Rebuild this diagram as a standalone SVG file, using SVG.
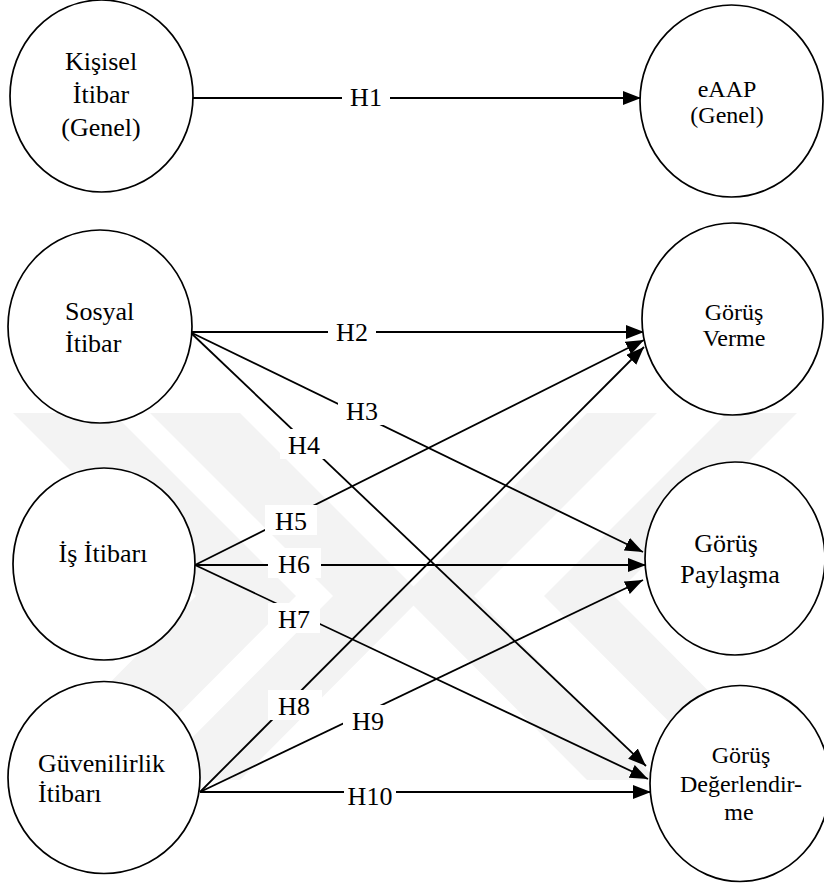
<svg xmlns="http://www.w3.org/2000/svg" width="824" height="886" viewBox="0 0 824 886">
<style>
.node ellipse{fill:#fff;stroke:#000;stroke-width:1.7}
text{font-family:"Liberation Serif","Times New Roman","DejaVu Serif",serif;font-size:26px;fill:#000}
.s24{font-size:24px}
.c{text-anchor:middle}
.edge line{stroke:#000;stroke-width:1.8;marker-end:url(#arr)}
.lbl rect{fill:#fff}
.wm{fill:#f3f3f3}
</style>
<defs>
<marker id="arr" markerUnits="userSpaceOnUse" markerWidth="19" markerHeight="15" refX="18" refY="7" orient="auto">
<path d="M0,0 L18,7 L0,14 z" fill="#000"/>
</marker>
</defs>
<rect width="824" height="886" fill="#fff"/>
<g id="watermark">
<polygon class="wm" points="13,413 113,413 296,596 113,780 13,780 196,596"/>
<polygon class="wm" points="150,413 240,413 423,596 240,780 150,780 333,596"/>
<polygon class="wm" points="587,413 657,413 474,596 657,780 587,780 404,596"/>
<polygon class="wm" points="727,413 797,413 614,596 797,780 727,780 544,596"/>
</g>
<g id="connectors">
<g class="edge">
<line x1="193" y1="98" x2="641" y2="98"/>
<line x1="190" y1="332" x2="644" y2="332"/>
<line x1="190" y1="332" x2="643" y2="552"/>
<line x1="190" y1="332" x2="646" y2="766"/>
<line x1="195" y1="565" x2="644" y2="340"/>
<line x1="195" y1="565" x2="646" y2="565"/>
<line x1="195" y1="565" x2="648" y2="779"/>
<line x1="200" y1="792" x2="644" y2="347"/>
<line x1="200" y1="792" x2="643" y2="580"/>
<line x1="200" y1="792" x2="651" y2="792"/>
</g>
<g class="lbl">
<rect x="342" y="81" width="48" height="30"/><text class="c" x="366" y="106">H1</text>
<rect x="328" y="316" width="48" height="30"/><text class="c" x="352" y="341">H2</text>
<rect x="338" y="395" width="48" height="30"/><text class="c" x="362" y="420">H3</text>
<rect x="280" y="429" width="48" height="30"/><text class="c" x="304" y="454">H4</text>
<rect x="265" y="505" width="52" height="30"/><text class="c" x="291" y="530">H5</text>
<rect x="268" y="548" width="53" height="30"/><text class="c" x="294" y="573">H6</text>
<rect x="268" y="603" width="52" height="30"/><text class="c" x="294" y="628">H7</text>
<rect x="268" y="690" width="54" height="30"/><text class="c" x="294" y="715">H8</text>
<rect x="343" y="705" width="50" height="30"/><text class="c" x="368" y="730">H9</text>
<rect x="344" y="780" width="52" height="30"/><text class="c" x="370" y="805">H10</text>
</g>
</g>
<g id="kisisel" class="node">
<ellipse cx="101.5" cy="96" rx="91.5" ry="96"/>
<text class="c" x="101" y="70">Kişisel</text>
<text class="c" x="101" y="103">İtibar</text>
<text class="c" x="101" y="136">(Genel)</text>
</g>
<g id="eaap" class="node">
<ellipse cx="731.5" cy="101" rx="91.5" ry="96"/>
<text class="s24 c" x="727" y="97">eAAP</text>
<text class="s24 c" x="727" y="123">(Genel)</text>
</g>
<g id="sosyal" class="node">
<ellipse cx="100" cy="326.5" rx="92" ry="96.5"/>
<text x="65" y="320">Sosyal</text>
<text x="65" y="352">İtibar</text>
</g>
<g id="gorus-verme" class="node">
<ellipse cx="732.5" cy="319" rx="90.5" ry="96"/>
<text class="s24 c" x="734" y="320">Görüş</text>
<text class="s24 c" x="734" y="346">Verme</text>
</g>
<g id="is" class="node">
<ellipse cx="104" cy="564" rx="91" ry="96"/>
<text class="c" x="103" y="562">İş İtibarı</text>
</g>
<g id="gorus-paylasma" class="node">
<ellipse cx="735" cy="558.5" rx="90" ry="96.5"/>
<text class="c" x="726" y="552">Görüş</text>
<text class="c" x="730" y="583">Paylaşma</text>
</g>
<g id="guvenilirlik" class="node">
<ellipse cx="104" cy="777.5" rx="96" ry="96"/>
<text x="38" y="772">Güvenilirlik</text>
<text x="38" y="802">İtibarı</text>
</g>
<g id="gorus-degerlendirme" class="node">
<ellipse cx="740" cy="783.5" rx="90" ry="98"/>
<text class="s24 c" x="741" y="763">Görüş</text>
<text class="s24 c" x="741" y="792">Değerlendir-</text>
<text class="s24 c" x="739" y="820">me</text>
</g>
</svg>
